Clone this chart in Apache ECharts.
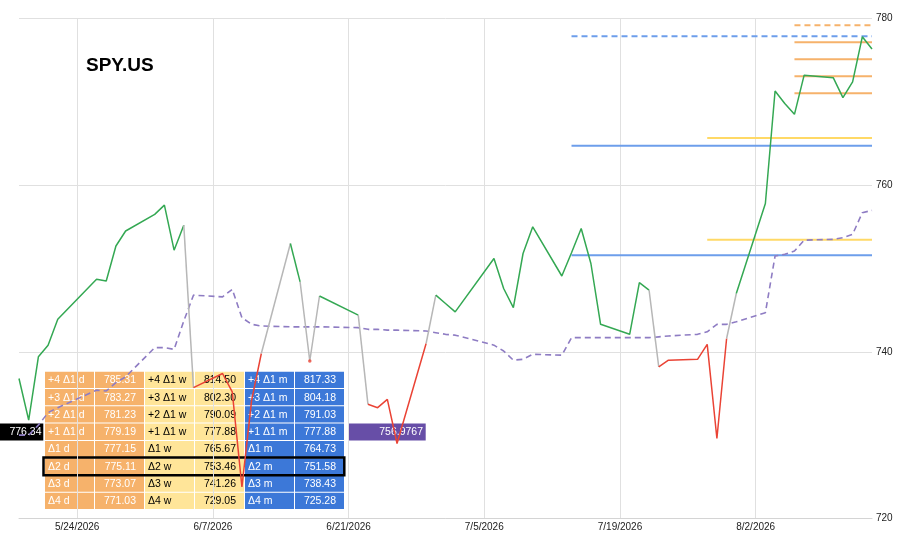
<!DOCTYPE html>
<html><head><meta charset="utf-8">
<script src="https://cdn.jsdelivr.net/npm/echarts@6/dist/echarts.min.js"></script>
<style>html,body{margin:0;padding:0;background:#fff}#c{width:905px;height:542px}</style>
</head><body><div id="c"></div>
<script>
// ---------- data ----------
const dates = [
 '2026-05-18','2026-05-19','2026-05-20','2026-05-21','2026-05-22',
 '2026-05-26','2026-05-27','2026-05-28','2026-05-29',
 '2026-06-01','2026-06-02','2026-06-03','2026-06-04','2026-06-05',
 '2026-06-08','2026-06-09','2026-06-10','2026-06-11','2026-06-12',
 '2026-06-15','2026-06-16','2026-06-17','2026-06-18',
 '2026-06-22','2026-06-23','2026-06-24','2026-06-25','2026-06-26',
 '2026-06-29','2026-06-30','2026-07-01','2026-07-02',
 '2026-07-06','2026-07-07','2026-07-08','2026-07-09','2026-07-10',
 '2026-07-13','2026-07-14','2026-07-15','2026-07-16','2026-07-17',
 '2026-07-20','2026-07-21','2026-07-22','2026-07-23','2026-07-24',
 '2026-07-27','2026-07-28','2026-07-29','2026-07-30','2026-07-31',
 '2026-08-03','2026-08-04','2026-08-05','2026-08-06','2026-08-07',
 '2026-08-10','2026-08-11','2026-08-12','2026-08-13','2026-08-14'
];
const closePrice = [
 736.8,731.8,739.4,740.8,743.9,
 748.7,748.5,752.7,754.5,
 756.5,757.6,752.2,755.2,735.7,
 737.4,735.2,723.8,734.2,739.8,
 753.0,748.4,738.9,746.7,
 744.4,733.7,733.3,734.3,729.0,
 741.0,746.8,745.8,744.8,
 751.2,747.6,745.3,751.8,755.0,
 749.1,751.9,754.8,750.6,743.3,
 742.1,748.3,747.4,738.2,739.0,
 739.1,740.9,729.6,741.6,747.0,
 757.8,771.3,769.8,768.5,773.2,
 772.9,770.5,772.4,777.8,776.34
];
// colour of each segment (point i -> i+1): g = up, r = down, s = switch
const segmentState = "gggggggggggg" + "srrrrrsgssgsrrrrs" + "ggggggggggggggg" + "srrrrrs" + "gggggggggg";
const avgPrice = [
 730.0,730.0,731.2,732.7,733.3,
 735.4,735.3,736.3,737.0,
 740.5,740.5,740.3,743.7,746.8,
 746.6,747.5,744.1,743.3,743.1,
 743.0,743.0,743.0,743.0,
 742.9,742.7,742.7,742.6,742.6,
 742.5,742.3,742.1,742.0,
 740.8,740.1,739.0,739.1,739.7,
 739.6,741.7,741.7,741.7,741.7,
 741.7,741.7,741.7,741.8,741.9,
 742.1,742.4,743.3,743.3,743.6,
 744.7,751.5,751.7,752.1,753.4,
 753.5,753.7,754.1,756.7,756.9767
];
const redDots = ['2026-06-17'];
const xTickDates = ['2026-05-24','2026-06-07','2026-06-21','2026-07-05','2026-07-19','2026-08-02'];
const xMinDate = '2026-05-18', xMaxDate = '2026-08-14';
const yMin = 720, yMax = 780, yStep = 20;

const rowKeys = ['+4 Δ1','+3 Δ1','+2 Δ1','+1 Δ1','Δ1','Δ2','Δ3','Δ4'];
const dayVals   = [785.31,783.27,781.23,779.19,777.15,775.11,773.07,771.03];
const weekVals  = [814.50,802.30,790.09,777.88,765.67,753.46,741.26,729.05];
const monthVals = [817.33,804.18,791.03,777.88,764.73,751.58,738.43,725.28];
const dayLevelRows = [3,4,5,6,7],  dayLevelStart = '2026-08-06';
const weekLevelRows = [4,5],       weekLevelStart = '2026-07-28';
const monthLevelRows = [3,4,5],    monthLevelStart = '2026-07-14';
const highlightRow = 5;
const title = 'SPY.US';

// ---------- build ----------
function ts(s){ const p = s.split('-').map(Number); return new Date(p[0], p[1]-1, p[2]).getTime(); }
const FONT_FAMILY = '"Liberation Sans", Arial, Helvetica, sans-serif';
const COL = { g:'#34a853', r:'#ea4335', s:'#b7b7b7' };

const series = [];
function levelSeries(vals, rows, start, color, dashedRow){
  rows.forEach(r => {
    series.push({
      type:'line', silent:true, symbol:'none', z:1,
      lineStyle:{ color, width:2, type: r === dashedRow ? [6,4] : 'solid' },
      data:[[ts(start), vals[r]], [ts(xMaxDate), vals[r]]]
    });
  });
}
levelSeries(weekVals, weekLevelRows, weekLevelStart, '#ffd966', 3);
levelSeries(monthVals, monthLevelRows, monthLevelStart, '#6d9eeb', 3);
levelSeries(dayVals, dayLevelRows, dayLevelStart, '#f6b26b', 3);

series.push({
  type:'line', silent:true, symbol:'none', z:3,
  lineStyle:{ color:'#8e7cc3', width:1.6, type:[6,4] },
  data: dates.map((d,i)=>[ts(d), avgPrice[i]])
});

let runStart = 0;
for (let i = 1; i <= segmentState.length; i++) {
  if (i === segmentState.length || segmentState[i] !== segmentState[runStart]) {
    const c = segmentState[runStart];
    const pts = [];
    for (let k = runStart; k <= i; k++) pts.push([ts(dates[k]), closePrice[k]]);
    series.push({ type:'line', silent:true, symbol:'none', z:4,
      lineStyle:{ color: COL[c], width:1.5 }, data: pts });
    runStart = i;
  }
}
series.push({
  type:'scatter', silent:true, z:5, symbolSize:3.5, itemStyle:{ color: COL.r },
  data: redDots.map(d => [ts(d), closePrice[dates.indexOf(d)]])
});

// table (annotation, drawn underneath)
const FONT = '10.5px ' + FONT_FAMILY;
const tableTop = 371.7, rowH = 17.3, tableLeft = 45, colW = 50;
const groups = [
  { vals: dayVals,   suffix:' d', bg:'#f6b26b', fg:'#ffffff' },
  { vals: weekVals,  suffix:' w', bg:'#ffe599', fg:'#000000' },
  { vals: monthVals, suffix:' m', bg:'#3c78d8', fg:'#ffffff' }
];
const elements = [];
groups.forEach((g, gi) => {
  rowKeys.forEach((k, r) => {
    const y = tableTop + r*rowH;
    for (let j = 0; j < 2; j++) {
      elements.push({ type:'rect', z:-10, silent:true,
        shape:{ x: tableLeft + (gi*2+j)*colW, y, width: colW-1, height: rowH-1 },
        style:{ fill: g.bg } });
    }
    elements.push({ type:'text', z:-9, silent:true,
      x: tableLeft + gi*2*colW + 3, y: y + rowH/2,
      style:{ text: k + g.suffix, fill: g.fg, font: FONT, textAlign:'left', textVerticalAlign:'middle' } });
    elements.push({ type:'text', z:-9, silent:true,
      x: tableLeft + (gi*2+1)*colW + 41, y: y + rowH/2,
      style:{ text: g.vals[r].toFixed(2), fill: g.fg, font: FONT, textAlign:'right', textVerticalAlign:'middle' } });
  });
});
// highlight box
elements.push({ type:'rect', z:-8, silent:true,
  shape:{ x: tableLeft - 1.5, y: tableTop + highlightRow*rowH - 0.6, width: 6*colW + 0.8, height: rowH + 0.3 },
  style:{ fill:'none', stroke:'#000', lineWidth:2.5 } });
// current price label
const labelY = tableTop + 3*rowH;
elements.push({ type:'rect', z:-10, silent:true,
  shape:{ x:0, y:labelY, width: tableLeft - 1.7, height: rowH - 0.5 }, style:{ fill:'#000' } });
elements.push({ type:'text', z:-9, silent:true, x: tableLeft - 3.5, y: labelY + rowH/2,
  style:{ text: closePrice[closePrice.length-1].toFixed(2), fill:'#fff', font: FONT, textAlign:'right', textVerticalAlign:'middle' } });
// average label
elements.push({ type:'rect', z:-10, silent:true,
  shape:{ x: tableLeft + 6*colW + 3.4, y: labelY, width: 77.3, height: rowH - 0.5 }, style:{ fill:'#674ea7' } });
elements.push({ type:'text', z:-9, silent:true, x: tableLeft + 6*colW + 78, y: labelY + rowH/2,
  style:{ text: String(avgPrice[avgPrice.length-1]), fill:'#fff', font: FONT, textAlign:'right', textVerticalAlign:'middle' } });

const tickTs = xTickDates.map(ts);
const chart = echarts.init(document.getElementById('c'));
chart.setOption({
  animation:false,
  backgroundColor:'#ffffff',
  title:{ text:title, left:86, top:56, padding:0,
    textStyle:{ fontFamily:FONT_FAMILY, fontSize:19, fontWeight:'bold', color:'#000' } },
  grid:{ left:19, right:33, top:18.5, bottom:23.5, containLabel:false },
  xAxis:{
    type:'value', min: ts(xMinDate), max: ts(xMaxDate),
    axisLine:{ show:true, lineStyle:{ color:'#d4d4d4', width:1 } },
    axisTick:{ show:false, customValues: tickTs },
    axisLabel:{ customValues: tickTs, color:'#222', fontSize:10, fontFamily:FONT_FAMILY, margin:4,
      formatter: v => { const d = new Date(v); return (d.getMonth()+1) + '/' + d.getDate() + '/' + d.getFullYear(); } },
    splitLine:{ show:true, lineStyle:{ color:'#e0e0e0', width:1 } }
  },
  yAxis:{
    type:'value', position:'right', min:yMin, max:yMax, interval:yStep,
    axisLine:{ show:false }, axisTick:{ show:false },
    axisLabel:{ color:'#222', fontSize:10, fontFamily:FONT_FAMILY, margin:4 },
    splitLine:{ lineStyle:{ color:'#e0e0e0', width:1 } }
  },
  graphic:{ z:-10, elements },
  series
});
</script>
</body></html>
